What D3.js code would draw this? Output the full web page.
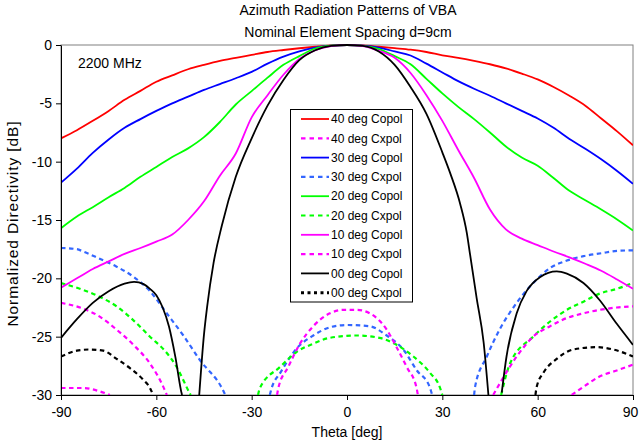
<!DOCTYPE html>
<html>
<head>
<meta charset="utf-8">
<script src="https://cdn.jsdelivr.net/npm/d3@7"></script>
<style>
  body { margin: 0; background: #fff; }
  svg { font-family: Arial, "Liberation Sans", sans-serif; }
  .axis text { font-size: 14px; fill: #000; }
  .axis path, .axis line { stroke: #000; }
</style>
</head>
<body>
<div id="chart"></div>
<script>
// tick labels
const xTicks = [-90, -60, -30, 0, 30, 60, 90];
const yTicks = [0, -5, -10, -15, -20, -25, -30];

// legend names, in series order
const seriesNames = ["40 deg Copol", "40 deg Cxpol", "30 deg Copol", "30 deg Cxpol",
  "20 deg Copol", "20 deg Cxpol", "10 deg Copol", "10 deg Cxpol", "00 deg Copol", "00 deg Cxpol"];

// [theta, dB], null = gap (below -30)
const copol40 = [[-90,-8.0],[-85,-7.3],[-80,-6.5],[-75,-5.65],[-70,-4.7],[-65,-3.93],[-60,-3.15],[-55,-2.6],
  [-50,-2.08],[-45,-1.7],[-40,-1.36],[-35,-1.1],[-30,-0.85],[-25,-0.6],[-20,-0.43],[-15,-0.28],[-10,-0.15],
  [-5,-0.04],[0,0],[5,-0.04],[10,-0.15],[15,-0.27],[20,-0.4],[25,-0.6],[30,-0.88],[35,-1.1],[40,-1.36],
  [45,-1.65],[50,-2.0],[55,-2.45],[60,-2.95],[65,-3.6],[70,-4.35],[75,-5.2],[80,-6.3],[85,-7.4],[90,-8.6]];
const cxpol40 = [[-90,-29.4],[-83,-29.4],[-77.7,-29.7],[-74.6,-30], null,
  [70.7,-30],[74.4,-29.3],[79.6,-28.4],[84.9,-27.9],[90,-27.4]];
const copol30 = [[-90,-11.8],[-85,-10.6],[-80,-9.25],[-75,-8.1],[-70,-7.1],[-65,-6.35],[-60,-5.65],[-55,-5.0],
  [-50,-4.43],[-45,-3.85],[-40,-3.35],[-35,-2.85],[-30,-2.3],[-25,-1.6],[-20,-1.0],[-15,-0.55],[-10,-0.22],
  [-5,-0.05],[0,0],[5,-0.05],[10,-0.22],[15,-0.55],[20,-0.9],[25,-1.6],[30,-2.35],[35,-3.1],[40,-3.75],
  [45,-4.35],[50,-5.0],[55,-5.65],[60,-6.3],[65,-7.1],[70,-8.05],[75,-8.9],[80,-9.8],[85,-10.8],[90,-11.9]];
const cxpol30 = [[-90,-17.4],[-85,-17.5],[-83,-17.7],[-78,-18.3],[-72.5,-19.0],[-67,-19.9],[-62,-21.1],
  [-57,-22.9],[-51.5,-24.9],[-46.3,-27.0],[-39,-29.6],[-38.3,-30], null,
  [-24.3,-30],[-23.7,-29.4],[-21,-28.1],[-15.8,-26.0],[-10.6,-24.9],[-5.4,-24.2],[0,-24.0],[7,-24.1],
  [12.5,-24.9],[17.7,-26.1],[22,-27.9],[26,-29.3],[26.8,-30], null,
  [40,-30],[40.3,-29.3],[44,-26.7],[48,-24.4],[53.4,-22.1],[58.6,-20.4],[64,-19.1],[69,-18.5],
  [74.4,-18.1],[80,-17.85],[85,-17.65],[90,-17.6]];
const copol20 = [[-90,-15.7],[-85,-14.7],[-80,-13.9],[-75,-13.05],[-70,-12.25],[-65,-11.3],[-60,-10.45],
  [-55,-9.6],[-50,-8.86],[-45,-7.9],[-40,-6.6],[-35,-5.1],[-30,-3.95],[-25,-2.8],[-20,-1.7],[-15,-0.95],
  [-10,-0.3],[-5,-0.06],[0,0],[5,-0.08],[10,-0.35],[15,-0.95],[20,-1.65],[25,-2.9],[30,-4.15],[35,-5.3],
  [40,-6.35],[45,-7.5],[50,-8.7],[55,-9.65],[60,-10.35],[65,-11.4],[70,-12.5],[75,-13.3],[80,-14.1],
  [85,-14.95],[90,-15.9]];
const cxpol20 = [[-90,-20.4],[-83,-21.0],[-77.7,-21.6],[-72.5,-22.4],[-67.2,-23.6],[-62,-25.0],
  [-56.7,-26.4],[-53.6,-27.6],[-49.4,-29.9],[-49.2,-30], null,
  [-28,-30],[-27.4,-29.4],[-21.1,-27.6],[-15.8,-26.3],[-10.6,-25.6],[-5.4,-25.1],[3,-24.9],[10.2,-25.1],
  [15.6,-25.7],[20.9,-26.7],[26.1,-28.1],[29.3,-29.4],[30,-30], null,
  [48.5,-30],[51.3,-27.3],[58.6,-25.0],[63.9,-23.7],[69.2,-22.7],[74.4,-22.0],[79.6,-21.3],
  [84.9,-20.9],[90,-20.4]];
const copol10 = [[-90,-20.8],[-85,-20.0],[-80,-19.2],[-75,-18.55],[-70,-17.9],[-65,-17.4],[-60,-16.85],
  [-55,-16.25],[-50,-15.0],[-45,-13.4],[-40,-11.2],[-35,-9.3],[-30,-6.2],[-25,-4.3],[-20,-2.55],
  [-15,-1.2],[-10,-0.45],[-5,-0.1],[0,0],[5,-0.1],[10,-0.5],[15,-1.1],[20,-2.4],[25,-4.3],[30,-6.5],
  [35,-9.0],[40,-11.4],[45,-14.1],[50,-15.8],[55,-16.6],[60,-17.15],[65,-17.7],[70,-18.2],[75,-18.75],
  [80,-19.35],[85,-20.1],[90,-20.9]];
const cxpol10 = [[-90,-22.1],[-83,-22.6],[-77.7,-23.3],[-72.5,-24.4],[-67.2,-25.7],[-62,-27.3],
  [-57.8,-29.3],[-56.7,-30], null,
  [-22,-30],[-21.6,-29.4],[-18.5,-27.6],[-14.8,-25.6],[-10.6,-24.1],[-5.4,-23.0],[-1.2,-22.7],[3,-22.7],
  [7.2,-23.0],[12.5,-24.4],[15.6,-25.9],[18.8,-27.6],[21.9,-29.4],[22.3,-30], null,
  [46,-30],[48.1,-29.0],[53.4,-26.7],[58.6,-25.0],[63.9,-24.1],[69.2,-23.4],[74.4,-23.0],[79.6,-22.7],
  [84.9,-22.5],[90,-22.4]];
const copol00 = [[-90,-25.1],[-85,-23.5],[-80,-22.1],[-75,-21.1],[-70,-20.45],[-67,-20.3],[-64,-20.5],
  [-62,-20.9],[-60,-21.45],[-58,-22.5],[-56,-24.15],[-54,-26.75],[-52,-29.9],[-51.9,-30], null,
  [-46.5,-30],[-45,-24.8],[-44,-22.4],[-42,-18.7],[-39.4,-15.5],[-35,-11.3],[-30,-8.0],[-25,-5.2],
  [-20,-3.0],[-15,-1.3],[-10,-0.45],[-5,-0.07],[0,0],[5,-0.08],[10,-0.55],[15,-1.7],[20,-3.6],
  [25,-5.9],[30,-9.2],[32.5,-11],[35.6,-13.6],[37.7,-16.1],[38.7,-17.9],[40.8,-21.7],[43,-25.5],
  [44.5,-30], null,
  [48.7,-29.8],[50.2,-26.7],[53.4,-23.0],[56.5,-21.1],[60.7,-19.9],[66,-19.4],[69.2,-19.6],[74.4,-20.4],
  [79.6,-21.9],[84.9,-23.9],[90,-25.7]];
const cxpol00 = [[-90,-26.7],[-85,-26.2],[-81,-26.1],[-76.7,-26.2],[-72.5,-26.9],[-68.3,-27.7],
  [-64.1,-28.7],[-62,-29.4],[-61,-30], null,
  [59.3,-30],[59.7,-29.3],[61.8,-28.1],[66,-26.9],[71.2,-26.1],[78.6,-25.9],[83.8,-26.1],[90,-26.7]];

const seriesData = [copol40, cxpol40, copol30, cxpol30, copol20, cxpol20, copol10, cxpol10, copol00, cxpol00];
const seriesColors = ["#ff0000", "#ff00ff", "#0000ff", "#3366ff", "#00ff00", "#00ff00", "#ff00ff", "#ff00ff", "#000000", "#000000"];

const width = 639, height = 446;
const plotLeft = 61, plotRight = 633, plotTop = 45, plotBottom = 395;

const svg = d3.select("#chart").append("svg")
  .attr("width", width).attr("height", height);

const x_scale = d3.scaleLinear().domain([-90, 90]).range([plotLeft, plotRight]);
const y_scale = d3.scaleLinear().domain([-30, 0]).range([plotBottom, plotTop]);

// titles
svg.append("text").attr("x", 348).attr("y", 15).attr("text-anchor", "middle")
  .style("font-size", "14px").text("Azimuth Radiation Patterns of VBA");
svg.append("text").attr("x", 348).attr("y", 37).attr("text-anchor", "middle")
  .style("font-size", "14px").text("Nominal Element Spacing d=9cm");

// plot frame (grey top / right)
svg.append("rect").attr("x", plotLeft).attr("y", plotTop)
  .attr("width", plotRight - plotLeft).attr("height", plotBottom - plotTop)
  .attr("fill", "#fff").attr("stroke", "#808080").attr("stroke-width", 1);

svg.append("clipPath").attr("id", "plotclip").append("rect")
  .attr("x", plotLeft).attr("y", plotTop - 2).attr("width", plotRight - plotLeft).attr("height", plotBottom - plotTop + 2);

const line = d3.line()
  .defined(d => d !== null)
  .x(d => x_scale(d[0]))
  .y(d => y_scale(d[1]))
  .curve(d3.curveMonotoneX);

const plot = svg.append("g").attr("clip-path", "url(#plotclip)");
seriesData.forEach((data, i) => {
  const cx = i % 2 === 1;
  plot.append("path")
    .attr("d", line(data))
    .attr("fill", "none")
    .attr("stroke", seriesColors[i])
    .attr("stroke-width", cx ? 2.2 : 1.8)
    .attr("stroke-dasharray", cx ? "4.5,3.5" : null);
});

// axes
const gX = svg.append("g").attr("class", "axis")
  .attr("transform", `translate(0,${plotBottom})`)
  .call(d3.axisBottom(x_scale).tickValues(xTicks).tickSize(5).tickSizeOuter(0).tickPadding(7));
const gY = svg.append("g").attr("class", "axis")
  .attr("transform", `translate(${plotLeft},0)`)
  .call(d3.axisLeft(y_scale).tickValues(yTicks).tickSize(5).tickSizeOuter(0).tickPadding(4));
gY.selectAll("text").text(d => String(d));
gX.selectAll("text").text(d => String(d))
  .attr("dx", d => d === 90 ? -3 : 0);

svg.append("text").attr("x", 347).attr("y", 437).attr("text-anchor", "middle")
  .style("font-size", "14px").text("Theta [deg]");
svg.append("text").attr("transform", "translate(13,224) rotate(-90)")
  .attr("text-anchor", "middle").attr("dy", "0.35em")
  .attr("textLength", 205).attr("lengthAdjust", "spacing")
  .style("font-size", "15.5px").text("Normalized Directivity [dB]");

svg.append("text").attr("x", 78).attr("y", 68)
  .style("font-size", "14px").text("2200 MHz");

// legend
const lg = svg.append("g");
lg.append("rect").attr("x", 290.5).attr("y", 109.5).attr("width", 122).attr("height", 192.5)
  .attr("fill", "#fff").attr("stroke", "#000").attr("stroke-width", 1);
seriesNames.forEach((name, i) => {
  const yy = 119 + i * 19.3;
  const cx = i % 2 === 1;
  lg.append("line").attr("x1", 301).attr("x2", 329).attr("y1", yy).attr("y2", yy)
    .attr("stroke", seriesColors[i])
    .attr("stroke-width", i === 9 ? 3 : (cx ? 2.2 : 1.8))
    .attr("stroke-dasharray", i === 9 ? "3,3.5" : (cx ? "4.5,4" : null));
  lg.append("text").attr("x", 331).attr("y", yy).attr("dy", "0.35em")
    .style("font-size", "12px").text(name);
});
</script>
</body>
</html>
